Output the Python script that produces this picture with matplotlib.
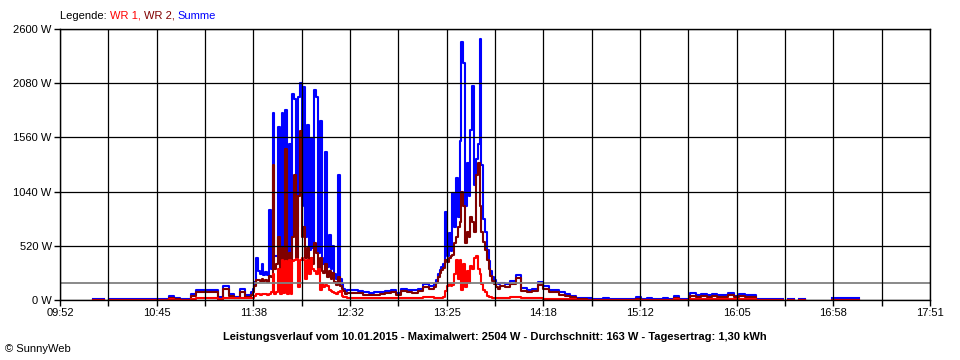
import numpy as np
import matplotlib
matplotlib.use("Agg")
import matplotlib.pyplot as plt

nan = np.nan
plt.rcParams['font.family'] = ['Liberation Sans', 'DejaVu Sans']

# ---- data (minutes after 09:52) ----
seg_times = [np.arange(0, 105, 3), np.arange(105, 158), np.arange(158, 206, 3),
             np.arange(206, 242), np.arange(242, 443, 3)]

summe_segs = [
    [nan, nan, nan, nan, nan, nan, 8, 8, nan, 8, 8, 8, 8, 8, 8, 8, 8, 10, 10, 12,
     40, 15, 10, 12, 60, 100, 100, 100, 100, 25, 130, 60, 30, 105, 45],
    [75, 110, 170, 400, 280, 250, 350, 240, 270, 240, 860, 300, 1790, 420, 420, 1660, 380, 1790, 500, 1820,
     450, 1500, 400, 1980, 1930, 700, 1950, 2080, 900, 2040, 600, 1680, 480, 1550, 500, 2010, 1950, 450, 1720, 400,
     350, 1420, 320, 620, 300, 520, 250, 200, 1200, 200, 150, 110, 90],
    [95, 95, 90, 75, 70, 75, 80, 90, 100, 70, 110, 100, 95, 110, 150, 130],
    [150, 190, 250, 290, 320, 350, 840, 420, 640, 470, 1030, 700, 1170, 800, 1530, 2480, 2270, 900, 1310, 1000,
     1630, 2050, 1100, 1350, 1500, 2500, 1300, 780, 650, 480, 370, 280, 220, 190, 160, 150],
    [160, 155, 180, 240, 115, 100, 110, 170, 130, 100, 100, 75, 60, 40, 20, 18, 15, 12, 10, 15,
     10, 10, 10, 10, 10, 30, 10, 15, 10, 12, 15, 12, 40, 10, 10, 65, 50, 55, 45, 55,
     45, 50, 70, 40, 60, 45, 50, 12, 10, 10, 12, 10, nan, 10, nan, 10, nan, nan, nan, nan,
     nan, 15, 18, 18, 15, 15, nan],
]
wr2_segs = [
    [nan, nan, nan, nan, nan, nan, 0, 0, nan, 0, 0, 0, 0, 0, 0, 0, 0, 0, 0, 0,
     20, 5, 0, 0, 38, 75, 75, 75, 75, 12, 105, 38, 15, 80, 25],
    [50, 80, 130, 190, 190, 180, 200, 180, 190, 170, 230, 220, 1300, 300, 350, 600, 300, 500, 350, 1450,
     350, 450, 300, 600, 1200, 400, 1000, 1620, 600, 700, 400, 500, 300, 400, 350, 550, 450, 300, 400, 280,
     260, 350, 220, 280, 200, 260, 170, 140, 220, 130, 110, 90, 60],
    [70, 70, 65, 52, 48, 52, 56, 65, 75, 48, 85, 75, 70, 85, 120, 105],
    [125, 165, 225, 260, 290, 310, 380, 360, 400, 420, 430, 550, 600, 700, 750, 1040, 900, 550, 650, 600,
     800, 750, 650, 1200, 1310, 900, 650, 560, 480, 380, 300, 230, 180, 150, 120, 110],
    [130, 128, 150, 210, 90, 75, 85, 140, 105, 75, 75, 52, 40, 25, 8, 5, 0, 0, 0, 0,
     0, 0, 0, 0, 0, 10, 0, 0, 0, 0, 0, 0, 15, 0, 0, 42, 30, 35, 28, 35,
     28, 30, 48, 25, 38, 28, 30, 0, 0, 0, 0, 0, nan, 0, nan, 0, nan, nan, nan, nan,
     nan, 0, 0, 0, 0, 0, nan],
]
wr1_segs = [
    [nan, nan, nan, nan, nan, nan, 0, 0, nan, 0, 0, 0, 0, 0, 0, 0, 0, 0, 0, 0,
     8, 3, 0, 3, 12, 18, 18, 18, 18, 10, 20, 18, 15, 18, 15],
    [15, 20, 40, 55, 55, 50, 55, 55, 60, 50, 60, 80, 250, 60, 80, 300, 60, 380, 70, 370,
     60, 380, 60, 370, 380, 390, 120, 380, 400, 380, 200, 380, 250, 400, 300, 280, 250, 300, 100, 150,
     120, 140, 130, 100, 90, 80, 70, 60, 80, 90, 40, 30, 25],
    [20, 20, 18, 18, 18, 18, 18, 18, 20, 18, 20, 20, 20, 20, 25, 25],
    [15, 15, 15, 20, 20, 25, 90, 130, 150, 130, 140, 250, 380, 200, 380, 100, 350, 120, 280, 160,
     330, 300, 400, 420, 300, 250, 150, 100, 80, 40, 25, 25, 22, 20, 20, 20],
    [20, 18, 25, 30, 15, 15, 15, 15, 12, 12, 10, 8, 5, 5, 3, 0, 0, 0, 0, 0,
     0, 0, 0, 0, 0, 3, 0, 0, 0, 0, 0, 0, 5, 0, 0, 12, 10, 10, 10, 10,
     10, 10, 12, 10, 10, 10, 10, 0, 0, 0, 0, 0, nan, 0, nan, 0, nan, nan, nan, nan,
     nan, 0, 0, 0, 0, 0, nan],
]
average_w = 163
x_labels = ["09:52", "10:45", "11:38", "12:32", "13:25", "14:18", "15:12", "16:05", "16:58", "17:51"]
y_ticks = [0, 520, 1040, 1560, 2080, 2600]
total_minutes = 479

times = np.concatenate(seg_times)
summe = np.concatenate([np.array(s, float) for s in summe_segs])
wr2 = np.concatenate([np.array(s, float) for s in wr2_segs])
wr1 = np.concatenate([np.array(s, float) for s in wr1_segs])

# ---- figure ----
fig = plt.figure(figsize=(9.6, 3.6), dpi=100)
ax = fig.add_axes([60/960, 60/360, 870/960, 271/360])

ax.plot(times, summe, color='#0000FF', lw=1.5, drawstyle='steps-post', zorder=2.0)
ax.plot(times, wr2, color='#800000', lw=1.5, drawstyle='steps-post', zorder=2.1)
ax.plot(times, wr1, color='#FF0000', lw=1.5, drawstyle='steps-post', zorder=2.2)
ax.axhline(average_w, color='#808080', lw=1.3, zorder=2.3)

ax.set_xlim(0, total_minutes)
ax.set_ylim(0, 2600)
xt = np.linspace(0, total_minutes, 19)
ax.set_xticks(xt)
lbls = []
for i in range(19):
    lbls.append(x_labels[i // 2] if i % 2 == 0 else "")
ax.set_xticklabels(lbls)
ax.set_yticks(y_ticks)
ax.set_yticklabels([f"{v} W" for v in y_ticks])
ax.set_axisbelow(False)
ax.grid(True, color='black', lw=0.9)
for sp in ax.spines.values():
    sp.set_color('black')
    sp.set_linewidth(1.0)
ax.tick_params(direction='out', length=4, width=1.0, color='black', labelsize=8, pad=2)

# legend
t0 = fig.text(60/960, 1 - 16/360, "Legende: ", fontsize=8, va='center', ha='left', color='black')
t1 = ax.annotate("WR 1, ", xy=(1, 0), xycoords=t0, va='bottom', ha='left', fontsize=8, color='#FF0000')
t2 = ax.annotate("WR 2, ", xy=(1, 0), xycoords=t1, va='bottom', ha='left', fontsize=8, color='#800000')
t3 = ax.annotate("Summe", xy=(1, 0), xycoords=t2, va='bottom', ha='left', fontsize=8, color='#0000FF')

fig.text(495/960, 1 - 337/360,
         "Leistungsverlauf vom 10.01.2015 - Maximalwert: 2504 W - Durchschnitt: 163 W - Tagesertrag: 1,30 kWh",
         fontsize=8, fontweight='bold', ha='center', va='center')
fig.text(5/960, 1 - 349/360, "© SunnyWeb", fontsize=8, ha='left', va='center')

fig.savefig("out.png", dpi=100)
